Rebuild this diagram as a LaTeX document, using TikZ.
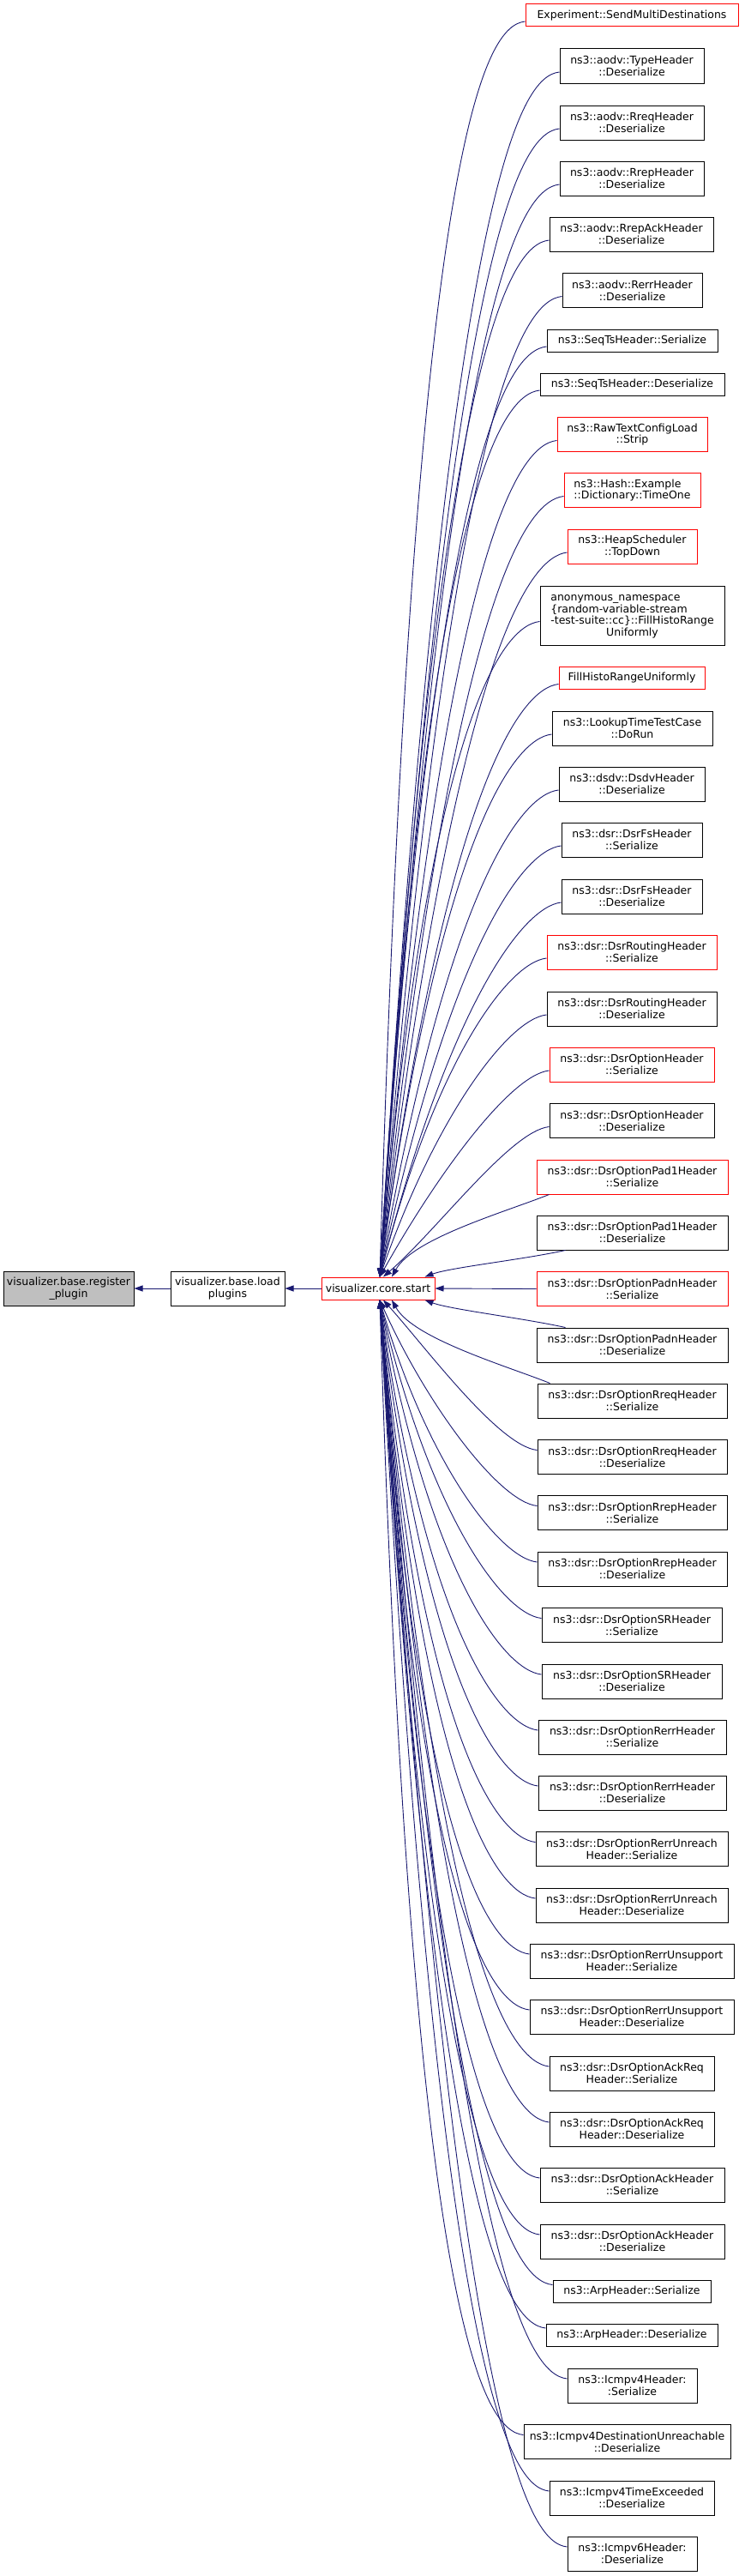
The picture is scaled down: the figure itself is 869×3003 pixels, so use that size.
\documentclass[tikz,border=0pt]{standalone}
\usepackage{fontspec}
\setmainfont{DejaVu Sans}
\usetikzlibrary{arrows.meta,calc}
\definecolor{edgeblue}{HTML}{191970}
\definecolor{boxgray}{HTML}{BFBFBF}
\begin{document}
\begin{tikzpicture}[x=1pt,y=-1pt,
  box/.style={draw=black, line width=1pt, fill=white, inner sep=0pt, align=center,
    font=\fontsize{12.5}{13.7}\selectfont, minimum height=40pt},
  redbox/.style={box, draw=red},
  onel/.style={minimum height=26pt},
  edge/.style={draw=edgeblue, line width=0.9pt, -{Triangle[length=10pt,width=7pt]}}]
\useasboundingbox (0,0) rectangle (869,3003);

% left chain
\node[box, fill=boxgray, minimum width=152pt] (reg) at (80,1502) {visualizer.base.register\\\_plugin};
\node[box, minimum width=133pt] (load) at (265.5,1502) {visualizer.base.load\\plugins};
\node[redbox, onel, minimum width=132pt] (core) at (441,1502) {visualizer.core.start};

% right column
\node[redbox, onel, minimum width=248pt] (n1) at (737,18) {Experiment::SendMultiDestinations};
\node[box, minimum width=168pt] (n2) at (737,77) {ns3::aodv::TypeHeader\\::Deserialize};
\node[box, minimum width=168pt] (n3) at (737,143) {ns3::aodv::RreqHeader\\::Deserialize};
\node[box, minimum width=168pt] (n4) at (737,208) {ns3::aodv::RrepHeader\\::Deserialize};
\node[box, minimum width=191pt] (n5) at (736.5,273) {ns3::aodv::RrepAckHeader\\::Deserialize};
\node[box, minimum width=163pt] (n6) at (737.5,338.5) {ns3::aodv::RerrHeader\\::Deserialize};
\node[box, onel, minimum width=199pt] (n7) at (737.5,397) {ns3::SeqTsHeader::Serialize};
\node[box, onel, minimum width=215pt] (n8) at (737.5,448) {ns3::SeqTsHeader::Deserialize};
\node[redbox, minimum width=175pt] (n9) at (737.5,506.5) {ns3::RawTextConfigLoad\\::Strip};
\node[redbox, align=left, minimum width=159pt] (n10) at (737.5,571.5) {ns3::Hash::Example\\::Dictionary::TimeOne};
\node[redbox, minimum width=151pt] (n11) at (737.5,637) {ns3::HeapScheduler\\::TopDown};
\node[box, minimum width=215pt, minimum height=69pt] (n12) at (737.5,717.5) {\begin{tabular}[b]{@{}l@{}}anonymous\_namespace\\\{random-variable-stream\\-test-suite::cc\}::FillHistoRange\end{tabular}\\Uniformly};
\node[redbox, onel, minimum width=170pt] (n13) at (737,790.5) {FillHistoRangeUniformly};
\node[box, minimum width=187pt] (n14) at (737.5,849) {ns3::LookupTimeTestCase\\::DoRun};
\node[box, minimum width=170pt] (n15) at (737,914) {ns3::dsdv::DsdvHeader\\::Deserialize};
\node[box, minimum width=164pt] (n16) at (737,979) {ns3::dsr::DsrFsHeader\\::Serialize};
\node[box, minimum width=164pt] (n17) at (737,1045) {ns3::dsr::DsrFsHeader\\::Deserialize};
\node[redbox, minimum width=198pt] (n18) at (737,1110) {ns3::dsr::DsrRoutingHeader\\::Serialize};
\node[box, minimum width=198pt] (n19) at (737,1176) {ns3::dsr::DsrRoutingHeader\\::Deserialize};
\node[redbox, minimum width=192pt] (n20) at (737,1241) {ns3::dsr::DsrOptionHeader\\::Serialize};
\node[box, minimum width=192pt] (n21) at (737,1306.5) {ns3::dsr::DsrOptionHeader\\::Deserialize};
\node[redbox, minimum width=223pt] (n22) at (737.5,1372) {ns3::dsr::DsrOptionPad1Header\\::Serialize};
\node[box, minimum width=223pt] (n23) at (737.5,1437) {ns3::dsr::DsrOptionPad1Header\\::Deserialize};
\node[redbox, minimum width=223pt] (n24) at (737.5,1502.5) {ns3::dsr::DsrOptionPadnHeader\\::Serialize};
\node[box, minimum width=223pt] (n25) at (737.5,1568) {ns3::dsr::DsrOptionPadnHeader\\::Deserialize};
\node[box, minimum width=221pt] (n26) at (737.5,1633) {ns3::dsr::DsrOptionRreqHeader\\::Serialize};
\node[box, minimum width=221pt] (n27) at (737.5,1698.5) {ns3::dsr::DsrOptionRreqHeader\\::Deserialize};
\node[box, minimum width=221pt] (n28) at (737.5,1763.5) {ns3::dsr::DsrOptionRrepHeader\\::Serialize};
\node[box, minimum width=221pt] (n29) at (737.5,1829) {ns3::dsr::DsrOptionRrepHeader\\::Deserialize};
\node[box, minimum width=210pt] (n30) at (737,1894.5) {ns3::dsr::DsrOptionSRHeader\\::Serialize};
\node[box, minimum width=210pt] (n31) at (737,1960) {ns3::dsr::DsrOptionSRHeader\\::Deserialize};
\node[box, minimum width=219pt] (n32) at (737.5,2025) {ns3::dsr::DsrOptionRerrHeader\\::Serialize};
\node[box, minimum width=219pt] (n33) at (737.5,2090) {ns3::dsr::DsrOptionRerrHeader\\::Deserialize};
\node[box, minimum width=224pt] (n34) at (737,2155.5) {ns3::dsr::DsrOptionRerrUnreach\\Header::Serialize};
\node[box, minimum width=224pt] (n35) at (737,2221) {ns3::dsr::DsrOptionRerrUnreach\\Header::Deserialize};
\node[box, minimum width=238pt] (n36) at (737,2286) {ns3::dsr::DsrOptionRerrUnsupport\\Header::Serialize};
\node[box, minimum width=238pt] (n37) at (737,2351) {ns3::dsr::DsrOptionRerrUnsupport\\Header::Deserialize};
\node[box, minimum width=192pt] (n38) at (737,2417) {ns3::dsr::DsrOptionAckReq\\Header::Serialize};
\node[box, minimum width=192pt] (n39) at (737,2482) {ns3::dsr::DsrOptionAckReq\\Header::Deserialize};
\node[box, minimum width=215pt] (n40) at (737.5,2547) {ns3::dsr::DsrOptionAckHeader\\::Serialize};
\node[box, minimum width=215pt] (n41) at (737.5,2613) {ns3::dsr::DsrOptionAckHeader\\::Deserialize};
\node[box, onel, minimum width=184pt] (n42) at (737,2671.5) {ns3::ArpHeader::Serialize};
\node[box, onel, minimum width=200pt] (n43) at (737,2722) {ns3::ArpHeader::Deserialize};
\node[box, minimum width=151pt] (n44) at (737.5,2781) {ns3::Icmpv4Header:\\:Serialize};
\node[box, minimum width=241pt] (n45) at (731.5,2846.5) {ns3::Icmpv4DestinationUnreachable\\::Deserialize};
\node[box, minimum width=192pt] (n46) at (737,2912) {ns3::Icmpv4TimeExceeded\\::Deserialize};
\node[box, minimum width=151pt] (n47) at (737.5,2977) {ns3::Icmpv6Header:\\:Deserialize};

% left edges
\draw[edge] (load) -- (reg);
\draw[edge] (core) -- (load);

% edges into the top of core
\foreach \n in {n1,n2,n3,n4,n5,n6,n7,n8,n9,n10,n11,n12,n13,n14,n15,n16,n17,n18,n19,n20}{
  \coordinate (s\n) at ([yshift=-7pt]\n.west);
  \draw[edge] (s\n) .. controls ($(s\n)+(-45,5)$) and ($(s\n)+(-130,120)$) .. ([xshift=2pt]core.north);
}
\coordinate (sn21) at ([yshift=-7pt]n21.west);
\draw[edge] (sn21) .. controls ($(sn21)+(-45,5)$) and ($(sn21)+(-130,120)$) .. ([xshift=6pt]core.north);
\coordinate (sn22) at ([xshift=15pt]n22.south west);
\draw[edge] (sn22) .. controls ($(sn22)+(-50,20)$) and ($(core.north)+(41,-45)$) .. ([xshift=16pt]core.north);
\coordinate (sn23) at ([xshift=34pt]n23.south west);
\draw[edge] (sn23) .. controls ($(sn23)+(-50,11)$) and ($(core.north east)+(18,-11)$) .. ([xshift=-12pt]core.north east);
% straight
\draw[edge] (n24.west) -- (core.east);
% edges into the bottom of core
\coordinate (sn25) at ([xshift=34pt]n25.north west);
\draw[edge] (sn25) .. controls ($(sn25)+(-50,-11)$) and ($(core.south east)+(18,11)$) .. ([xshift=-12pt]core.south east);
\coordinate (sn26) at ([xshift=15pt]n26.north west);
\draw[edge] (sn26) .. controls ($(sn26)+(-50,-20)$) and ($(core.south)+(41,45)$) .. ([xshift=16pt]core.south);
\coordinate (sn27) at ([yshift=8pt]n27.west);
\draw[edge] (sn27) .. controls ($(sn27)+(-45,-5)$) and ($(sn27)+(-130,-120)$) .. ([xshift=6pt]core.south);
\foreach \n in {n28,n29,n30,n31,n32,n33,n34,n35,n36,n37,n38,n39,n40,n41,n42,n43,n44,n45,n46,n47}{
  \coordinate (s\n) at ([yshift=8pt]\n.west);
  \draw[edge] (s\n) .. controls ($(s\n)+(-45,-5)$) and ($(s\n)+(-130,-120)$) .. ([xshift=2pt]core.south);
}
\end{tikzpicture}
\end{document}
